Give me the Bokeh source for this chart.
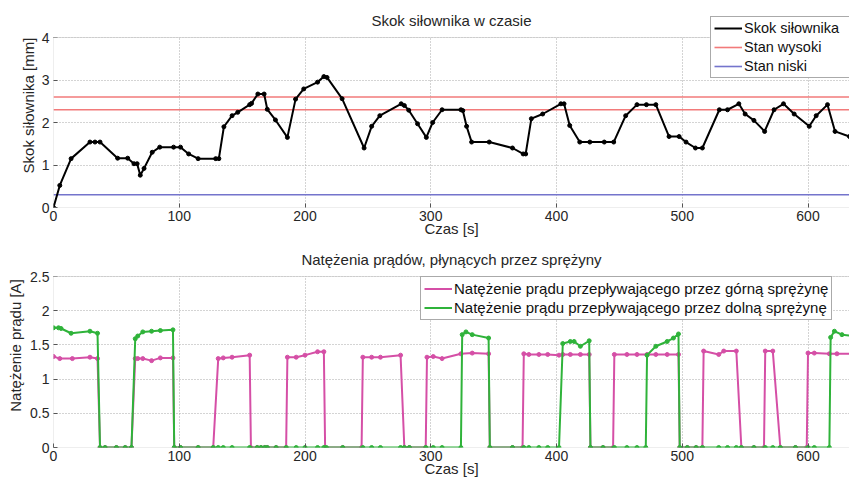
from bokeh.plotting import figure
from bokeh.layouts import column
from bokeh.models import (Range1d, Legend, LegendItem, FixedTicker, CustomJSTickFormatter,
                          BoxAnnotation, Label)
from bokeh.embed import file_html
from bokeh.resources import INLINE

# ---------------- data: stroke of the actuator ----------------
skok_t = [0, 5, 14, 29, 33, 37, 51, 59, 64, 66.5,
          69, 72, 78.5, 84.5, 95.5, 101, 107.5, 115, 129, 131.5,
          135.5, 142, 146.5, 156, 157.5, 162.5, 167.5, 170, 176.5, 186,
          192.5, 199, 210, 215, 217.5, 229.5, 247, 253, 259.5, 276.5,
          279, 282.5, 289.5, 296.5, 301.5, 309, 324, 325.5, 328.5, 332.5,
          346.5, 365, 373.5, 375.5, 380, 389, 403.5, 406, 410.5, 418.5,
          426.5, 438, 445.5, 455, 464, 471.5, 479, 489.5, 497.5, 503,
          510.5, 516, 529.5, 536, 545, 550, 557, 565.5, 573, 580.5,
          589, 601, 606.5, 615.5, 621.5, 633, 640]
skok_v = [0, 0.52, 1.15, 1.54, 1.54, 1.54, 1.16, 1.16, 1.03, 1.03,
          0.76, 0.92, 1.30, 1.42, 1.42, 1.42, 1.26, 1.15, 1.15, 1.15,
          1.90, 2.16, 2.24, 2.42, 2.45, 2.67, 2.67, 2.31, 2.06, 1.65,
          2.55, 2.79, 2.95, 3.08, 3.06, 2.56, 1.40, 1.91, 2.16, 2.44,
          2.40, 2.29, 1.97, 1.65, 2.00, 2.30, 2.30, 2.28, 1.91, 1.54,
          1.54, 1.40, 1.26, 1.26, 2.09, 2.20, 2.44, 2.44, 1.93, 1.54,
          1.54, 1.54, 1.54, 2.16, 2.42, 2.42, 2.42, 1.67, 1.67, 1.54,
          1.40, 1.40, 2.30, 2.30, 2.44, 2.20, 2.05, 1.79, 2.30, 2.44,
          2.20, 1.91, 2.16, 2.42, 1.79, 1.67, 1.62]
stan_wysoki = [2.6, 2.3]
stan_niski = [0.3]

# ---------------- data: spring currents ----------------
gorna_t = [0, 5, 15, 29, 35, 37, 41, 50, 57, 62,
           65, 67, 71, 78, 85, 95, 96, 101, 115, 127,
           131, 135, 142, 156, 157, 162, 165, 168, 170, 177,
           185, 186, 193, 200, 210, 215, 216, 230, 245, 246,
           253, 260, 276, 279, 283, 296, 297, 302, 309, 324,
           333, 346, 347, 365, 373, 374, 378, 386, 393, 402,
           405, 411, 419, 426, 427, 437, 445, 446, 456, 464,
           472, 479, 488, 497, 498, 504, 511, 516, 517, 529,
           533, 543, 547, 557, 565, 566, 572, 578, 590, 599,
           600, 605, 617, 623, 640]
gorna_v = [1.33, 1.30, 1.30, 1.32, 1.30, 0, 0, 0, 0, 0,
           1.30, 1.30, 1.30, 1.27, 1.31, 1.31, 0, 0, 0, 0,
           1.30, 1.31, 1.32, 1.35, 0, 0, 0, 0, 0, 0,
           0, 1.32, 1.32, 1.35, 1.40, 1.40, 0, 0, 0, 1.32,
           1.32, 1.32, 1.35, 0, 0, 0, 1.32, 1.33, 1.30, 1.37,
           1.38, 1.37, 0, 0, 0, 1.37, 1.36, 1.36, 1.36, 1.35,
           1.36, 1.36, 1.36, 1.36, 0, 0, 0, 1.36, 1.36, 1.36,
           1.36, 1.36, 1.36, 1.36, 0, 0, 0, 0, 1.41, 1.36,
           1.41, 1.41, 0, 0, 0, 1.41, 1.41, 0, 0, 0,
           1.38, 1.38, 1.37, 1.37, 1.37]

dolna_t = [0, 4, 6, 14, 29, 35, 37, 41, 50, 57,
           62, 65, 67, 71, 78, 85, 95, 96, 101, 115,
           127, 131, 135, 142, 156, 162, 165, 168, 170, 177,
           185, 193, 200, 210, 215, 217, 230, 246, 253, 260,
           276, 279, 283, 296, 302, 309, 324, 325, 328, 333,
           346, 347, 365, 374, 378, 386, 393, 402, 405, 411,
           414, 419, 426, 427, 437, 446, 456, 464, 471, 472,
           479, 488, 493, 497, 498, 504, 511, 516, 529, 536,
           543, 547, 557, 566, 572, 578, 590, 600, 605, 617,
           618, 621, 627, 640]
dolna_v = [1.75, 1.75, 1.74, 1.67, 1.70, 1.67, 0, 0, 0, 0,
           0, 1.59, 1.63, 1.69, 1.70, 1.71, 1.72, 0, 0, 0,
           0, 0, 0, 0, 0, 0, 0, 0, 0, 0,
           0, 0, 0, 0, 0, 0, 0, 0, 0, 0,
           0, 0, 0, 0, 0, 0, 0, 1.65, 1.69, 1.65,
           1.60, 0, 0, 0, 0, 0, 0, 0, 1.52, 1.55,
           1.55, 1.48, 1.56, 0, 0, 0, 0, 0, 0, 1.35,
           1.48, 1.55, 1.60, 1.66, 0, 0, 0, 0, 0, 0,
           0, 0, 0, 0, 0, 0, 0, 0, 0, 0,
           1.61, 1.70, 1.65, 1.62]

x_ticks = [0, 100, 200, 300, 400, 500, 600]
y1_ticks = [0, 1, 2, 3, 4]
y2_ticks = [0, 0.5, 1, 1.5, 2, 2.5]

FONT = "Liberation Sans"
TXT = "#262626"
FRAME = "#8c8c8c"
X_MAX = 633

fmt = CustomJSTickFormatter(code="return String(Math.round(tick*100)/100);")


def make_panel(height, top, frame_px, axes_px, y_max, yticks, ylabel, ylabel_standoff,
               title, title_gap):
    """Figure whose frame is taller than the axes box, so legend/title may sit above the box."""
    y_ext = y_max * frame_px / axes_px
    p = figure(width=849, height=height, x_range=Range1d(0, X_MAX), y_range=Range1d(0, y_ext),
               output_backend="svg", toolbar_location=None,
               min_border_left=53, min_border_right=0, min_border_top=top,
               min_border_bottom=height - top - frame_px)
    p.background_fill_color = "white"
    p.border_fill_color = "white"
    p.outline_line_color = None
    for ax in (p.xaxis[0], p.yaxis[0]):
        ax.axis_line_color = None
        ax.major_tick_in = 4
        ax.major_tick_out = 0
        ax.minor_tick_in = 0
        ax.minor_tick_out = 0
        ax.major_tick_line_color = "#555555"
        ax.major_label_text_font = FONT
        ax.major_label_text_font_size = "14px"
        ax.major_label_text_color = TXT
        ax.axis_label_text_font = FONT
        ax.axis_label_text_font_size = "15px"
        ax.axis_label_text_font_style = "normal"
        ax.axis_label_text_color = TXT
        ax.formatter = fmt
    p.xaxis[0].ticker = FixedTicker(ticks=x_ticks)
    p.yaxis[0].ticker = FixedTicker(ticks=yticks)
    p.xaxis[0].major_label_standoff = 3
    p.xaxis[0].axis_label_standoff = -4
    p.xaxis[0].axis_label = "Czas [s]"
    p.yaxis[0].major_label_standoff = 4
    p.yaxis[0].axis_label = ylabel
    p.yaxis[0].axis_label_standoff = ylabel_standoff
    p.yaxis[0].bounds = (0, y_max)
    for g in (p.xgrid[0], p.ygrid[0]):
        g.grid_line_color = "#a8a8a8"
        g.grid_line_dash = "1 2"
        g.grid_line_width = 1
    # white area above the axes box, the box outline and the title
    p.add_layout(BoxAnnotation(bottom=y_max, fill_color="white", fill_alpha=1, line_color=None), "center")
    p.add_layout(BoxAnnotation(left=0, right=X_MAX, bottom=0, top=y_max, fill_alpha=0,
                               line_color=FRAME, line_width=1), "center")
    p.add_layout(Label(x=X_MAX / 2, y=y_max * (axes_px + title_gap) / axes_px, text=title,
                       text_align="center", text_baseline="middle", text_font=FONT,
                       text_font_size="15px", text_color=TXT), "center")
    return p


def style_legend(leg, size, row, spacing, padding):
    leg.label_text_font = FONT
    leg.label_text_font_size = size
    leg.label_text_color = "#111111"
    leg.border_line_color = "#555555"
    leg.border_line_width = 1
    leg.background_fill_color = "white"
    leg.background_fill_alpha = 1
    leg.glyph_width = 28
    leg.glyph_height = row
    leg.label_height = row
    leg.label_standoff = 2
    leg.spacing = spacing
    leg.padding = padding
    leg.margin = 0


# ---------------- top figure ----------------
p1 = make_panel(240, 3, 204, 170, 4, y1_ticks, "Skok siłownika [mm]", 2,
                "Skok siłownika w czasie", 17)

r_hi = p1.multi_line(xs=[[0, X_MAX] for _ in stan_wysoki], ys=[[v, v] for v in stan_wysoki],
                     line_color="#f27a7a", line_width=1.6)
r_lo = p1.multi_line(xs=[[0, X_MAX] for _ in stan_niski], ys=[[v, v] for v in stan_niski],
                     line_color="#7474cc", line_width=1.6)
r_skok = p1.line(skok_t, skok_v, line_color="black", line_width=2)
p1.scatter(skok_t, skok_v, size=4, color="black")

leg1 = Legend(items=[LegendItem(label="Skok siłownika", renderers=[r_skok]),
                     LegendItem(label="Stan wysoki", renderers=[r_hi]),
                     LegendItem(label="Stan niski", renderers=[r_lo])],
              location=(657, 129))
style_legend(leg1, "14.5px", 16, 3, 3)
leg1.label_width = 104
p1.add_layout(leg1, "center")

# ---------------- bottom figure ----------------
p2 = make_panel(241, 3, 204, 171, 2.5, y2_ticks, "Natężenie prądu [A]", 3,
                "Natężenia prądów, płynących przez sprężyny", 17)

r_g = p2.line(gorna_t, gorna_v, line_color="#d54fa6", line_width=2)
p2.scatter(gorna_t, gorna_v, size=4, color="#d54fa6")
r_d = p2.line(dolna_t, dolna_v, line_color="#2fb33a", line_width=2)
p2.scatter(dolna_t, dolna_v, size=4, color="#2fb33a")

leg2 = Legend(items=[LegendItem(label="Natężenie prądu przepływającego przez górną sprężynę", renderers=[r_g]),
                     LegendItem(label="Natężenie prądu przepływającego przez dolną sprężynę", renderers=[r_d])],
              location=(367, 127))
style_legend(leg2, "15px", 17, 2, 3)
p2.add_layout(leg2, "center")

layout = column(p1, p2, spacing=0)
open("out.html", "w").write(file_html(layout, INLINE))
